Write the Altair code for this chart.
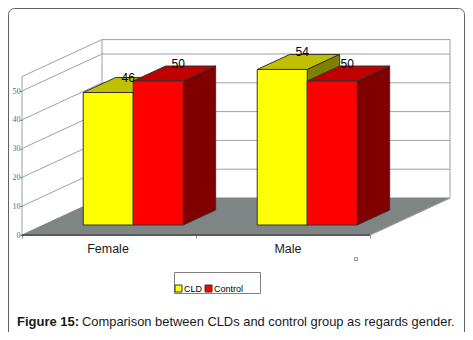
import altair as alt
import pandas as pd

categories = ["Female", "Male"]
series = ["CLD", "Control"]
cld = [46, 54]
control = [50, 50]
y_ticks = [0, 10, 20, 30, 40, 50]
y_top = 55
caption_bold = "Figure 15:"
caption_rest = "Comparison between CLDs and control group as regards gender."

PX_X = 174.0   # px per category
PX_Y = 2.88    # px per value unit
W, H = 429, 195
DX = 80 / PX_X          # oblique depth shift in category units
DY = 37 / PX_Y          # oblique depth shift in value units
BAR = 50 / PX_X
D0, D1 = 10 / 37, 25 / 37  # bar depth range
CENTER_SHIFT = 2.6 / PX_X

xs = alt.Scale(domain=[0, W / PX_X], nice=False, zero=False)
ys = alt.Scale(domain=[0, H / PX_Y], nice=False, zero=False)
x_axis = alt.Axis(values=[0, 1, 2], labels=False, domain=False, ticks=True, tickSize=3,
                  tickColor="#909090", grid=False, title=None)
y_axis = alt.Axis(values=y_ticks, domain=False, ticks=True, tickSize=2, tickColor="#606060",
                  grid=False, labelFont="Liberation Sans Narrow", labelFontSize=8,
                  labelColor="#3f6f9f", labelPadding=0, title=None)


def qx(f):
    return alt.X(f + ":Q", scale=xs, axis=x_axis)


def qy(f):
    return alt.Y(f + ":Q", scale=ys, axis=y_axis, stack=None)


def xv(x, d):
    return x + d * DX


def yv(v, d):
    return v + d * DY


def rules(segs, color, width=1):
    df = pd.DataFrame(segs, columns=["x", "x2", "y", "y2"])
    return alt.Chart(df).mark_rule(color=color, strokeWidth=width).encode(
        x=qx("x"), x2="x2:Q", y=qy("y"), y2="y2:Q")


def top_area(x0, x1, v, d0, d1, color, stroke="#333333"):
    df = pd.DataFrame({
        "y": [yv(v, d0), yv(v, d1)],
        "x": [xv(x0, d0), xv(x0, d1)],
        "x2": [xv(x1, d0), xv(x1, d1)],
    })
    return alt.Chart(df).mark_area(orient="horizontal", color=color, stroke=stroke, strokeWidth=1).encode(
        y=qy("y"), x=qx("x"), x2="x2:Q")


def side_area(x, v, d0, d1, color, stroke="#333333"):
    df = pd.DataFrame({
        "x": [xv(x, d0), xv(x, d1)],
        "y": [yv(v, d0), yv(v, d1)],
        "y2": [yv(0, d0), yv(0, d1)],
    })
    return alt.Chart(df).mark_area(orient="vertical", color=color, stroke=stroke, strokeWidth=1).encode(
        x=qx("x"), y=qy("y"), y2="y2:Q")


layers = []

# Walls
wall = []
for v in y_ticks[1:] + [y_top]:
    wall.append((0, DX, v, v + DY))
    wall.append((DX, 2 + DX, v + DY, v + DY))
wall.append((0, 0, 0, y_top))
wall.append((DX, DX, DY, y_top + DY))
wall.append((2 + DX, 2 + DX, DY, y_top + DY))
layers.append(rules(wall, "#a0a0a0"))

# Floor
layers.append(top_area(0, 2, 0, 0, 1, "#7f8485", stroke="#7f8485"))
layers.append(rules([(0, 2, 0, 0)], "#5a5a5a", 2))
layers.append(rules([(2, 2 + DX, 0, DY)], "#a0a0a0"))

# Bars, back to front in paint order
colors = {
    "CLD": ("#ffff00", "#c0c000", "#808000"),
    "Control": ("#ff0000", "#c00000", "#800000"),
}
labels = []
label_nudge_x = [0.0, 0.0, 0.0, -5 / PX_X]
label_nudge_y = [-2 / PX_Y, 0.0, 0.5 / PX_Y, 0.0]
k = 0
for i, cat in enumerate(categories):
    left = i + 0.5 - BAR + CENTER_SHIFT
    for j, (name, vals) in enumerate(zip(series, [cld, control])):
        v = vals[i]
        x0, x1 = left + j * BAR, left + (j + 1) * BAR
        front, top, side = colors[name]
        layers.append(top_area(x0, x1, v, D0, D1, top))
        layers.append(side_area(x1, v, D0, D1, side))
        fdf = pd.DataFrame({"x": [xv(x0, D0)], "x2": [xv(x1, D0)], "y": [yv(v, D0)], "y2": [yv(0, D0)], "series": [name]})
        layers.append(alt.Chart(fdf).mark_rect(stroke="#333333", strokeWidth=1).encode(
            x=qx("x"), x2="x2:Q", y=qy("y"), y2="y2:Q",
            fill=alt.Fill("series:N", scale=alt.Scale(domain=series, range=["#ffff00", "#ff0000"]),
                          legend=alt.Legend(title=None, orient="none", legendX=152, legendY=244,
                                            direction="horizontal", columns=2, symbolType="square",
                                            symbolSize=49, symbolStrokeColor="#333333", symbolStrokeWidth=1,
                                            labelFont="Liberation Sans", labelFontSize=9, labelColor="#000000",
                                            labelOffset=1, columnPadding=0, padding=0)),
        ))
        labels.append({"x": xv((x0 + x1) / 2, D0) + 20 / PX_X + label_nudge_x[k],
                       "y": yv(v, D1) + label_nudge_y[k], "t": str(v)})
        k += 1

# Value labels
layers.append(alt.Chart(pd.DataFrame(labels)).mark_text(
    font="Liberation Sans", fontSize=12, color="#000000", dy=-2).encode(
    x=qx("x"), y=qy("y"), text="t:N"))

# Category labels
cat_df = pd.DataFrame({"x": [0.5 - 1 / PX_X, 1.5 + 5 / PX_X], "t": categories})
layers.append(alt.Chart(cat_df).mark_text(
    font="Liberation Sans", fontSize=12.5, color="#1a1a1a", baseline="middle").encode(
    x=qx("x"), y=alt.value(209), text="t:N"))

# Legend box, small marker, frame, caption
layers.append(alt.Chart(pd.DataFrame({"a": [0]})).mark_rect(fill="transparent", stroke="#808080", strokeWidth=1).encode(
    x=alt.value(152.5), x2=alt.value(238.5), y=alt.value(232.5), y2=alt.value(253.5)))
layers.append(alt.Chart(pd.DataFrame({"a": [0]})).mark_rect(fill="#ffffff", stroke="#909090", strokeWidth=1).encode(
    x=alt.value(332.5), x2=alt.value(335.5), y=alt.value(217.5), y2=alt.value(220.5)))
layers.append(alt.Chart(pd.DataFrame({"a": [0]})).mark_rect(
    fill="transparent", stroke="#606060", strokeWidth=1, cornerRadius=6).encode(
    x=alt.value(-13.5), x2=alt.value(442.5), y=alt.value(-31.5), y2=alt.value(320)))
layers.append(alt.Chart(pd.DataFrame({"t": [caption_bold]})).mark_text(
    font="Liberation Sans", fontSize=13, fontWeight="bold", align="left", color="#1a1a1a").encode(
    x=alt.value(-5), y=alt.value(282), text="t:N"))
layers.append(alt.Chart(pd.DataFrame({"t": [caption_rest]})).mark_text(
    font="Liberation Sans", fontSize=12.9, align="left", color="#1a1a1a").encode(
    x=alt.value(60), y=alt.value(282), text="t:N"))

chart = alt.layer(*layers).properties(
    width=W, height=H,
    autosize=alt.AutoSizeParams(type="none"),
    padding={"left": 14, "top": 32, "right": 14, "bottom": 97},
).configure_view(stroke=None)

chart.save("out.html", embed_options={"renderer": "svg", "actions": False})
